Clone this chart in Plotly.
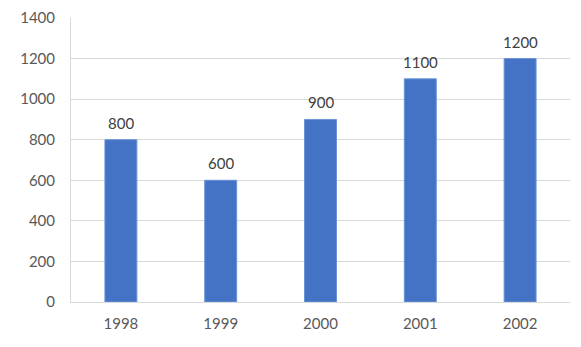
import plotly.graph_objects as go

years = ["1998", "1999", "2000", "2001", "2002"]
values = [800, 600, 900, 1100, 1200]
y_ticks = [0, 200, 400, 600, 800, 1000, 1200, 1400]

fig = go.Figure()
fig.add_trace(go.Bar(
    x=years, y=values,
    marker=dict(color="#4472C4", line=dict(color="#6A93D8", width=1)),
    width=0.32,
))
# value labels above bars (category index positions on the category axis)
for i, v in enumerate(values):
    fig.add_annotation(x=i, y=v, text=str(v), showarrow=False, yanchor="bottom",
                       yshift=6, font=dict(color="#404040", size=15, family="Lato"))
# page body has an 8px default margin; size the figure to fit the 581x347 window
fig.update_layout(
    width=573, height=339,
    margin=dict(l=63, r=11, t=10, b=45, autoexpand=False),
    paper_bgcolor="white", plot_bgcolor="white",
    showlegend=False,
    font=dict(family="Lato", size=15, color="#595959"),
)
fig.update_yaxes(range=[0, 1400], tickvals=y_ticks, showgrid=True, gridcolor="#D9D9D9",
                 gridwidth=1, zeroline=False, showline=True, linecolor="#D9D9D9",
                 ticks="", ticklabelstandoff=12, automargin=False)
fig.update_xaxes(type="category", showline=True, linecolor="#D9D9D9", ticks="", showgrid=False,
                 ticklabelstandoff=8, automargin=False)
fig.write_html("out.html")
